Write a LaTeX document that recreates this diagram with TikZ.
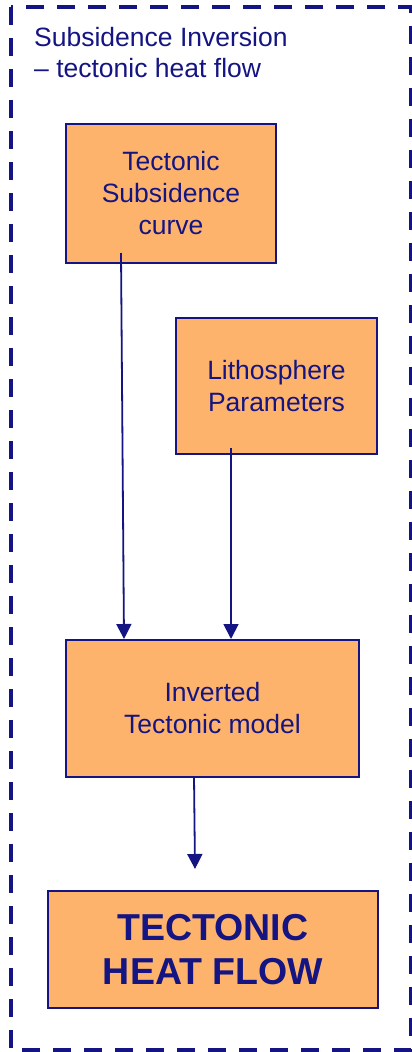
\documentclass[tikz,border=0pt]{standalone}
\usepackage{fontspec}
\setmainfont{Liberation Sans}
\usetikzlibrary{arrows.meta}
\definecolor{navy}{RGB}{20,20,130}
\definecolor{peach}{RGB}{253,179,107}
\tikzset{
  stepbox/.style={draw=navy, line width=2pt, fill=peach, text=navy,
    align=center, inner sep=0pt, font=\fontsize{26.5}{32}\selectfont},
  resultbox/.style={stepbox, font=\fontsize{37.5}{44}\selectfont\bfseries},
  arr/.style={draw=navy, line width=1.8pt, -{Triangle[length=15pt,width=15pt]}},
  frame/.style={draw=navy, line width=4pt, dash pattern=on 18pt off 13pt}
}
\begin{document}
\begin{tikzpicture}[x=1pt,y=-1pt]
  \useasboundingbox (0,0) rectangle (412,1052);
  % dashed enclosure
  \draw[frame] (11,7) rectangle (410.5,1050);
  % heading (base anchor sits on the last line)
  \node[anchor=base west, align=left, inner sep=0pt, text=navy,
        font=\fontsize{26.5}{31}\selectfont] (title) at (34,77)
    {Subsidence Inversion\\– tectonic heat flow};
  % process boxes
  \node[stepbox, minimum width=210pt, minimum height=139pt] (tsc) at (171,193.5)
    {Tectonic\\Subsidence\\curve};
  \node[stepbox, minimum width=201pt, minimum height=136pt] (lith) at (276.5,386)
    {Lithosphere\\Parameters};
  \node[stepbox, minimum width=293pt, minimum height=137pt] (inv) at (212.5,708.5)
    {Inverted\\Tectonic model};
  \node[resultbox, minimum width=330pt, minimum height=117pt] (thf) at (213,949.5)
    {TECTONIC\\HEAT FLOW};
  % connector end points
  \coordinate (a1s) at ([xshift=-50pt,yshift=11pt]tsc.south);
  \coordinate (a1e) at ([xshift=-88.5pt]inv.north);
  \coordinate (a2s) at ([xshift=-45.5pt,yshift=7pt]lith.south);
  \coordinate (a2e) at ([xshift=18.5pt]inv.north);
  \coordinate (a3s) at ([xshift=-18.5pt,yshift=2pt]inv.south);
  \coordinate (a3e) at ([xshift=-18pt,yshift=21pt]thf.north);
  % connectors
  \draw[arr] (a1s) -- (a1e);
  \draw[arr] (a2s) -- (a2e);
  \draw[arr] (a3s) -- (a3e);
\end{tikzpicture}
\end{document}
